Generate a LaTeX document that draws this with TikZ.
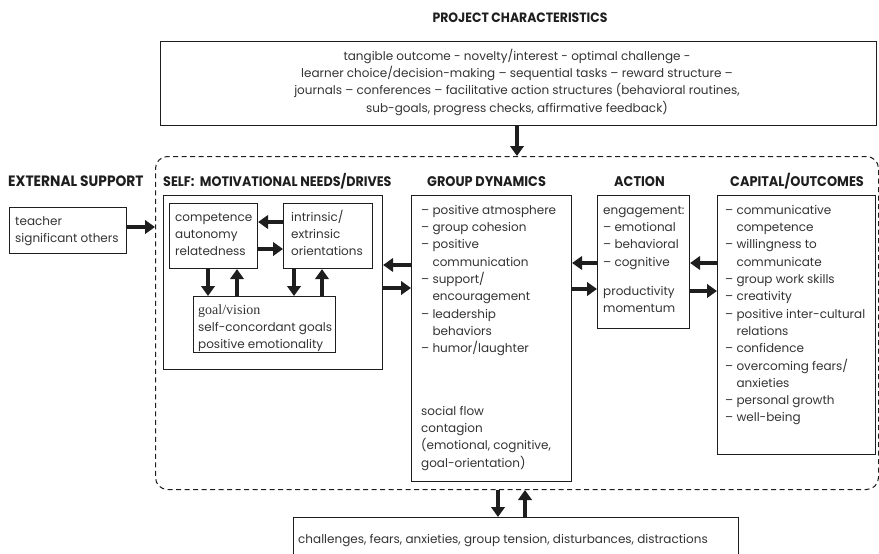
\documentclass[tikz,border=0pt]{standalone}
\usepackage{fontspec}
\setmainfont{Poppins}
\newfontfamily\hdfont[FakeStretch=0.92]{Poppins}
\newfontfamily\goalfont{Liberation Serif}
\usetikzlibrary{arrows.meta}
\newcommand\bodyfont{\fontsize{12}{17.3}\selectfont}
\newcommand\hdrfont{\hdfont\bfseries\fontsize{14}{16}\selectfont}
\newcommand\ind{\phantom{– }}
\definecolor{ink}{HTML}{1E1E1E}
\definecolor{txtc}{HTML}{333333}
\tikzset{
  box/.style={draw=ink, line width=1.1pt, anchor=north west, inner sep=0pt},
  txt/.style={anchor=north west, inner sep=0pt, align=left, text=txtc, font=\bodyfont},
  hdr/.style={anchor=base west, inner sep=0pt, font=\hdrfont, text=ink},
  arr/.style={draw=ink, line width=3.8pt, -{Triangle[length=10pt,width=13.5pt]}},
}
\begin{document}
\begin{tikzpicture}[x=1pt,y=-1pt]
\useasboundingbox (0,0) rectangle (879,554);
% dashed arena
\node[box, dashed, dash pattern=on 5pt off 3.5pt, line width=1pt, rounded corners=12pt, minimum width=723pt, minimum height=333pt] (arena) at (155,156) {};
% title and headers
\node[anchor=base, inner sep=0pt, font=\hdfont\bfseries\fontsize{13.5}{16}\selectfont, text=ink] (title) at (520,22) {PROJECT CHARACTERISTICS};
\node[hdr, font=\hdfont\bfseries\fontsize{15}{16}\selectfont] (hext) at (8,186) {EXTERNAL SUPPORT};
\node[hdr, font=\hdfont\bfseries\fontsize{13.8}{16}\selectfont] (hself) at (163,186) {SELF:\ \ MOTIVATIONAL NEEDS/DRIVES};
\node[hdr] (hgrp) at (427,186) {GROUP DYNAMICS};
\node[hdr] (hact) at (614,186) {ACTION};
\node[hdr] (hcap) at (730,186) {CAPITAL/OUTCOMES};
% boxes
\node[box, minimum width=716pt, minimum height=84pt] (top) at (160,41) {};
\node[box, minimum width=117pt, minimum height=46pt] (ext) at (9,207) {};
\node[box, minimum width=219pt, minimum height=174pt] (self) at (163,195) {};
\node[box, minimum width=88pt, minimum height=65pt] (comp) at (169,203) {};
\node[box, minimum width=89pt, minimum height=65pt] (intr) at (283,203) {};
\node[box, minimum width=142pt, minimum height=56pt] (goal) at (193,296) {};
\node[box, minimum width=160pt, minimum height=286pt] (grp) at (411,195) {};
\node[box, minimum width=92pt, minimum height=133pt] (act) at (597,195) {};
\node[box, minimum width=158pt, minimum height=259pt] (cap) at (717,195) {};
\node[box, minimum width=445pt, minimum height=60pt] (bot) at (293,517) {};
% texts
\node[txt, anchor=north, align=center] (toptxt) at (517,48) {\strut tangible outcome - novelty/interest - optimal challenge -\\
learner choice/decision-making – sequential tasks – reward structure –\\
journals – conferences – facilitative action structures (behavioral routines,\\
sub-goals, progress checks, affirmative feedback)};
\node[txt] (exttxt) at (15,213) {\strut teacher\\ significant others};
\node[txt] (comptxt) at (175,209) {\strut competence\\ autonomy\\ relatedness};
\node[txt] (intrtxt) at (291,209) {\strut intrinsic/\\ extrinsic\\ orientations};
\node[txt] (goaltxt) at (198,302) {\strut {\goalfont\fontsize{14}{17.3}\selectfont goal/vision}\\ self-concordant goals\\ positive emotionality};
\node[txt] (grptxt) at (421,202) {\strut – positive atmosphere\\ – group cohesion\\ – positive\\ \ind communication\\ – support/\\ \ind encouragement\\ – leadership\\ \ind behaviors\\ – humor/laughter};
\node[txt] (flowtxt) at (421,403) {\strut social flow\\ contagion\\ (emotional, cognitive,\\ goal-orientation)};
\node[txt] (acttxt) at (603,202) {\strut engagement:\\ – emotional\\ – behavioral\\ – cognitive};
\node[txt] (prodtxt) at (603,283) {\strut productivity\\ momentum};
\node[txt] (captxt) at (725,202) {\strut – communicative\\ \ind competence\\ – willingness to\\ \ind communicate\\ – group work skills\\ – creativity\\ – positive inter-cultural\\ \ind relations\\ – confidence\\ – overcoming fears/\\ \ind anxieties\\ – personal growth\\ – well-being};
\node[txt] (bottxt) at (298,531) {\strut challenges, fears, anxieties, group tension, disturbances, distractions};
% arrows
\draw[arr] (top.south -| 517,0) -- (arena.north -| 517,0);
\draw[arr] (ext.east |- 0,227) -- (arena.west |- 0,227);
\draw[arr] (intr.west |- 0,222) -- (comp.east |- 0,222);
\draw[arr] (comp.east |- 0,249) -- (intr.west |- 0,249);
\draw[arr] (comp.south -| 208,0) -- (goal.north -| 208,0);
\draw[arr] (goal.north -| 237,0) -- (comp.south -| 237,0);
\draw[arr] (intr.south -| 294,0) -- (goal.north -| 294,0);
\draw[arr] (goal.north -| 322,0) -- (intr.south -| 322,0);
\draw[arr] (grp.west |- 0,265) -- (self.east |- 0,265);
\draw[arr] (self.east |- 0,288) -- (grp.west |- 0,288);
\draw[arr] (act.west |- 0,263) -- (grp.east |- 0,263);
\draw[arr] (grp.east |- 0,289) -- (act.west |- 0,289);
\draw[arr] (cap.west |- 0,263) -- (act.east |- 0,263);
\draw[arr] (act.east |- 0,291) -- (cap.west |- 0,291);
\draw[arr] (arena.south -| 498,0) -- (bot.north -| 498,0);
\draw[arr] (bot.north -| 525,0) -- (arena.south -| 525,0);
\end{tikzpicture}
\end{document}
